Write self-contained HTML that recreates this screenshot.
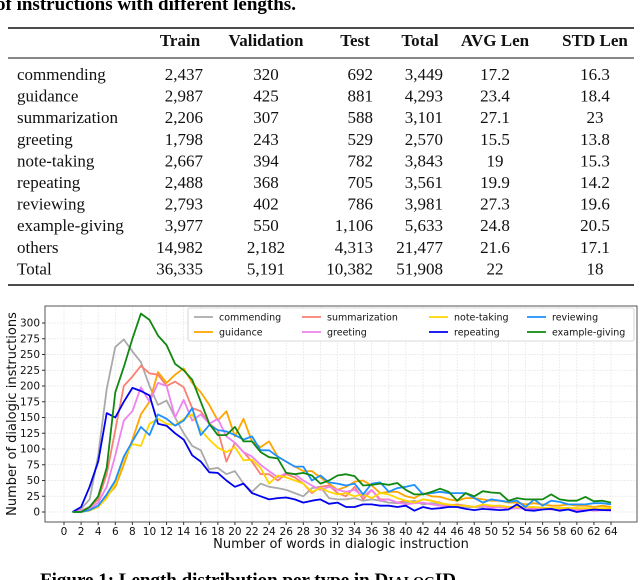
<!DOCTYPE html>
<html><head><meta charset="utf-8"><style>
body{margin:0;background:#fff;width:640px;height:580px;overflow:hidden}
svg{display:block}
</style></head><body>
<svg id="chart" width="640" height="580" xmlns="http://www.w3.org/2000/svg">
<g font-family="Liberation Serif, serif" font-weight="bold" font-size="19">
<text x="-4" y="10">of instructions with different lengths.</text>
<text x="40" y="586">Figure 1: Length distribution per type in D<tspan font-size="14">IALOG</tspan>ID</text>
</g>
<g id="table" font-family="Liberation Serif, serif" font-size="17" fill="#111"></g>
<g id="plot"></g>
</svg>
<script>
const tableHeaders=["Train","Validation","Test","Total","AVG Len","STD Len"];
const tableRows=[
["commending","2,437","320","692","3,449","17.2","16.3"],
["guidance","2,987","425","881","4,293","23.4","18.4"],
["summarization","2,206","307","588","3,101","27.1","23"],
["greeting","1,798","243","529","2,570","15.5","13.8"],
["note-taking","2,667","394","782","3,843","19","15.3"],
["repeating","2,488","368","705","3,561","19.9","14.2"],
["reviewing","2,793","402","786","3,981","27.3","19.6"],
["example-giving","3,977","550","1,106","5,633","24.8","20.5"],
["others","14,982","2,182","4,313","21,477","21.6","17.1"],
["Total","36,335","5,191","10,382","51,908","22","18"]];
const NS="http://www.w3.org/2000/svg";
function mk(tag,attrs,parent){const e=document.createElementNS(NS,tag);for(const k in attrs)e.setAttribute(k,attrs[k]);parent.appendChild(e);return e;}
const tb=document.getElementById('table');
const colX=[180,266,355,420,495,595];
const cellX=[[203,'end'],[266,'middle'],[373,'end'],[443,'end'],[495,'middle'],[595,'middle']];
[[28,1.6],[58,1],[285,1.6]].forEach(([y,w])=>{const l=mk('line',{x1:8,x2:634,y1:y,y2:y,stroke:'#111','stroke-width':w},tb);

});
tableHeaders.forEach((h,i)=>{const t=mk('text',{x:colX[i],y:46,'text-anchor':'middle','font-weight':'bold'},tb);t.textContent=h;

});
tableRows.forEach((r,ri)=>{const y=80+ri*21.6;
r.forEach((c,ci)=>{const t=mk('text',{x:ci==0?17:cellX[ci-1][0],y:y,'text-anchor':ci==0?'start':cellX[ci-1][1]},tb);t.textContent=c;

});});

const seriesNames=["commending","guidance","summarization","greeting","note-taking","repeating","reviewing","example-giving"];
const seriesColors=["#aaaaaa","#ffa500","#fa8072","#ee82ee","#ffd700","#0000ee","#1e90ff","#118811"];
const commending=[0,5,20,90,195,262,274,255,238,200,170,177,150,125,105,98,68,70,60,65,45,32,45,40,38,35,30,25,38,40,22,20,20,22,18,20,18,15,14,15,18,12,14,13,10,10,8,8,8,9,7,8,6,7,6,6,5,5,6,4,5,4,5,4];
const guidance=[0,2,3,8,25,40,75,115,155,175,222,205,218,228,205,190,170,145,160,120,148,112,103,112,88,80,72,65,65,55,45,35,40,48,50,42,30,32,32,25,22,30,25,24,20,18,22,22,20,18,18,15,15,12,14,12,10,10,12,10,10,8,10,8];
const summarization=[0,2,8,20,60,130,200,215,232,220,218,200,207,198,165,160,140,130,80,110,95,80,60,60,50,60,55,45,30,40,42,30,25,40,20,35,20,20,15,18,15,20,18,15,10,12,10,8,10,8,10,8,8,6,7,6,5,6,5,6,5,4,5,4];
const greeting=[0,2,5,15,40,90,145,160,198,175,205,200,150,178,145,155,140,148,120,110,95,88,75,65,55,62,60,50,42,35,40,35,32,35,25,35,18,20,15,12,14,15,12,10,8,10,10,8,10,6,8,5,6,5,4,5,4,3,4,2,4,2,3,2];
const noteTaking=[0,0,2,8,22,45,85,108,105,140,148,140,138,148,155,130,115,102,95,103,82,83,70,45,58,55,50,45,32,38,32,28,30,25,28,22,30,28,22,18,15,20,18,14,12,10,10,8,12,10,10,8,8,8,8,7,6,6,7,6,6,5,6,6];
const repeating=[0,8,40,80,157,150,175,197,192,185,140,137,125,115,90,80,63,62,50,40,45,30,25,20,22,23,20,15,18,20,13,15,8,8,12,12,10,10,8,10,2,8,5,6,8,8,5,3,5,4,3,4,12,3,2,4,5,2,4,0,2,4,3,3];
const reviewing=[0,0,3,10,28,50,88,112,135,122,155,148,137,145,165,122,138,130,128,122,115,120,98,98,88,80,72,72,50,58,47,45,42,45,28,45,47,32,38,40,43,28,30,32,30,30,30,22,15,20,18,16,18,8,20,10,18,16,12,12,12,14,14,12];
const exampleGiving=[0,0,8,25,70,190,230,275,315,305,280,265,235,225,210,175,140,122,122,135,112,112,95,87,85,62,60,62,58,45,50,58,60,57,42,43,45,43,46,35,28,28,32,37,32,18,30,25,33,31,30,18,22,20,20,20,28,20,18,18,24,17,18,15];
const allSeries=[commending,guidance,summarization,greeting,noteTaking,repeating,reviewing,exampleGiving];
const xTicks=[];for(let v=0;v<=64;v+=2)xTicks.push(v);
const yTicks=[0,25,50,75,100,125,150,175,200,225,250,275,300];

const L=45,R=637,T=306,B=522;
const xs=v=>64+v*(611-64)/64;
const ys=v=>512-v*(512-323)/300;
const pl=document.getElementById('plot');
const g=mk('g',{},pl);


xTicks.forEach(v=>mk('line',{x1:xs(v),x2:xs(v),y1:T,y2:B,stroke:'#e6e6e6','stroke-width':0.7,'stroke-dasharray':'2,1'},g));
yTicks.forEach(v=>mk('line',{x1:L,x2:R,y1:ys(v),y2:ys(v),stroke:'#e6e6e6','stroke-width':0.7,'stroke-dasharray':'2,1'},g));
const fr=mk('rect',{x:L,y:T,width:R-L,height:B-T,fill:'none',stroke:'#555','stroke-width':1},pl);


xTicks.forEach(v=>{mk('line',{x1:xs(v),x2:xs(v),y1:B,y2:B+3,stroke:'#333'},pl);
const t=mk('text',{x:xs(v),y:B+13,'text-anchor':'middle','font-family':'DejaVu Sans, sans-serif','font-size':10.5,fill:'#111'},pl);t.textContent=v;

});
yTicks.forEach(v=>{mk('line',{x1:L-3,x2:L,y1:ys(v),y2:ys(v),stroke:'#333'},pl);
const t=mk('text',{x:L-5,y:ys(v)+3.5,'text-anchor':'end','font-family':'DejaVu Sans, sans-serif','font-size':10.5,fill:'#111'},pl);t.textContent=v;

});
const xl=mk('text',{x:341,y:548,'text-anchor':'middle','font-family':'DejaVu Sans, sans-serif','font-size':13,fill:'#111'},pl);xl.textContent='Number of words in dialogic instruction';


const yl=mk('text',{x:0,y:0,transform:'translate(16,414) rotate(-90)','text-anchor':'middle','font-family':'DejaVu Sans, sans-serif','font-size':13,fill:'#111'},pl);yl.textContent='Number of dialogic instructions';


allSeries.forEach((s,si)=>{const pts=s.map((v,i)=>xs(i+1).toFixed(1)+','+ys(v).toFixed(1)).join(' ');
const p=mk('polyline',{points:pts,fill:'none',stroke:seriesColors[si],'stroke-width':1.8,'stroke-linejoin':'round'},pl);

});
const lg=mk('g',{},pl);


mk('rect',{x:188,y:308,width:446,height:33,fill:'#fff','fill-opacity':0.9,stroke:'#ccc','stroke-width':0.8,rx:2},lg);
const colLX=[194,302,429,527];
seriesNames.forEach((n,i)=>{const c=Math.floor(i/2),r=i%2;const x=colLX[c],y=317+r*15;
mk('line',{x1:x,x2:x+19,y1:y,y2:y,stroke:seriesColors[i],'stroke-width':1.8},lg);
const t=mk('text',{x:x+25,y:y+3.5,'font-family':'DejaVu Sans, sans-serif','font-size':9.5,fill:'#111'},lg);t.textContent=n;

});
</script>
</body></html>
